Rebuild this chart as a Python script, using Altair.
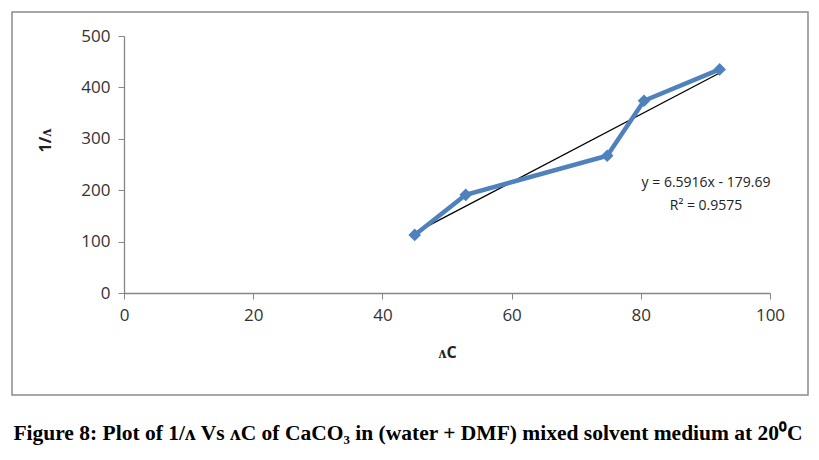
import altair as alt
import pandas as pd

lam_c = [45.0, 52.9, 74.8, 80.5, 92.2]
inv_lam = [113, 191, 267, 374, 435]
slope = 6.5916
intercept = -179.69
eq_lines = ["y = 6.5916x - 179.69", "R² = 0.9575"]
caption = "Figure 8: Plot of 1/ʌ Vs ʌC of CaCO₃ in (water + DMF) mixed solvent medium at 20⁰C"

df = pd.DataFrame({"x": lam_c, "y": inv_lam})
trend = pd.DataFrame({"x": [min(lam_c), max(lam_c)]})
trend["y"] = slope * trend["x"] + intercept

W, H = 646, 257
FONT = "Open Sans"

xs = alt.Scale(domain=[0, 100], nice=False)
ys = alt.Scale(domain=[0, 500], nice=False)

one = pd.DataFrame({"a": [0]})
frame = alt.Chart(one).mark_rect(
    fill="transparent", stroke="#8a8a8a", strokeWidth=1.5, clip=False
).encode(x=alt.value(-112), x2=alt.value(684), y=alt.value(-24), y2=alt.value(359))

base = alt.Chart(df)
line = base.mark_line(color="#4F81BD", strokeWidth=4.5).encode(
    x=alt.X("x:Q", scale=xs, axis=alt.Axis(
        values=[0, 20, 40, 60, 80, 100], title="ʌC", grid=False, labelFlush=False,
        titleFont=FONT, titleFontSize=16, titleFontWeight="bold", titleColor="#222",
        titlePadding=21, labelPadding=8)),
    y=alt.Y("y:Q", scale=ys, axis=alt.Axis(
        values=[0, 100, 200, 300, 400, 500], title="1/ʌ", grid=False, labelFlush=False,
        titleFont=FONT, titleFontSize=16, titleFontWeight="bold", titleColor="#222",
        titleX=-79, titleY=104, titleAngle=-90, titleAlign="center",
        titleBaseline="middle", labelPadding=8)),
)
pts = base.mark_point(shape="diamond", filled=True, color="#4F81BD", size=160, opacity=1).encode(
    x=alt.X("x:Q", scale=xs), y=alt.Y("y:Q", scale=ys)
)
tl = alt.Chart(trend).mark_line(color="black", strokeWidth=1.3).encode(
    x=alt.X("x:Q", scale=xs), y=alt.Y("y:Q", scale=ys)
)
eq1 = alt.Chart(pd.DataFrame({"t": [eq_lines[0]]})).mark_text(
    font=FONT, fontSize=14, color="#222", align="center", baseline="middle"
).encode(x=alt.value(582), y=alt.value(147), text="t:N")
eq2 = alt.Chart(pd.DataFrame({"t": [eq_lines[1]]})).mark_text(
    font=FONT, fontSize=14, color="#222", align="center", baseline="middle"
).encode(x=alt.value(582), y=alt.value(170), text="t:N")
cap = alt.Chart(pd.DataFrame({"t": [caption]})).mark_text(
    font="Liberation Serif", fontSize=21.5, fontWeight="bold", color="black",
    align="center", baseline="alphabetic"
).encode(x=alt.value(284), y=alt.value(404), text="t:N")

chart = alt.layer(frame, tl, line, pts, eq1, eq2, cap).properties(
    width=W, height=H,
    autosize=alt.AutoSizeParams(type="none"),
    padding={"left": 116, "top": 28, "right": 40, "bottom": 165},
).configure_view(stroke=None).configure_axis(
    domainColor="#868686", tickColor="#868686", tickSize=6, domainWidth=1.3,
    labelFont=FONT, labelFontSize=17, labelColor="#333",
)

chart.save("out.html", embed_options={"renderer": "svg", "actions": False})
